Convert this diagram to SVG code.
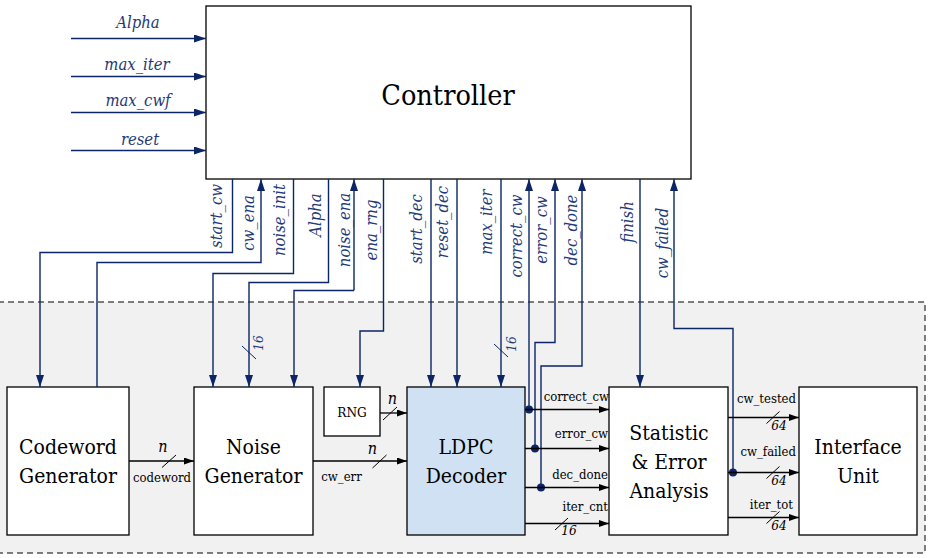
<svg xmlns="http://www.w3.org/2000/svg" width="928" height="558" viewBox="0 0 928 558">
<style>
text{font-family:"DejaVu Serif Condensed","DejaVu Serif",serif}
.box{fill:#fff;stroke:#000;stroke-width:1.3}
.ctl{fill:none;stroke:#0b2566;stroke-width:1.4}
.dat{fill:none;stroke:#000;stroke-width:1.3}
.sl{stroke:#000;stroke-width:1}
.slb{stroke:#0b2566;stroke-width:1}
.big{font-size:21px;fill:#000;text-anchor:middle}
.it{font-style:italic;font-size:16.5px;fill:#1f3a78;text-anchor:middle}
.lb{font-size:13px;fill:#000}
.n{font-style:italic;font-size:16px;fill:#000;text-anchor:middle}
.w{font-style:italic;font-size:13.5px;fill:#000;text-anchor:middle}
.dot{fill:#0b2566}
</style>
<defs>
<marker id="an" markerUnits="userSpaceOnUse" markerWidth="13" markerHeight="9" refX="12" refY="4" orient="auto"><path d="M0,0 L12,4 L0,8 z" fill="#0b2566"/></marker>
<marker id="ab" markerUnits="userSpaceOnUse" markerWidth="11" markerHeight="8" refX="10" refY="3.5" orient="auto"><path d="M0,0 L10,3.5 L0,7 z" fill="#000"/></marker>
</defs>
<rect x="-2" y="302" width="927" height="251" fill="#f1f1f1" stroke="#000" stroke-width="1" stroke-dasharray="6,4"/>

<g id="controller">
<rect class="box" x="206" y="6" width="485" height="173"/>
<text x="448" y="105" style="font-size:28.5px" text-anchor="middle">Controller</text>
</g>
<g id="codeword-generator">
<rect class="box" x="7" y="387" width="122" height="148"/>
<text class="big" x="68" y="454">Codeword</text>
<text class="big" x="68" y="483">Generator</text>
</g>
<g id="noise-generator">
<rect class="box" x="194" y="387" width="119" height="148"/>
<text class="big" x="253.5" y="454">Noise</text>
<text class="big" x="253.5" y="483">Generator</text>
</g>
<g id="rng">
<rect class="box" x="324" y="387" width="56" height="49"/>
<text x="352" y="417" font-size="13.5" text-anchor="middle">RNG</text>
</g>
<g id="ldpc-decoder">
<rect class="box" x="407" y="387" width="118" height="148" style="fill:#cfe1f2"/>
<text class="big" x="466" y="454">LDPC</text>
<text class="big" x="466" y="483">Decoder</text>
</g>
<g id="statistic">
<rect class="box" x="609" y="387" width="119" height="148"/>
<text class="big" x="669" y="440">Statistic</text>
<text class="big" x="669" y="469">&amp; Error</text>
<text class="big" x="669" y="498">Analysis</text>
</g>
<g id="interface-unit">
<rect class="box" x="799" y="387" width="118" height="148"/>
<text class="big" x="858" y="454">Interface</text>
<text class="big" x="858" y="483">Unit</text>
</g>

<g id="connectors">
<line class="ctl" x1="71" y1="38.5" x2="206" y2="38.5" marker-end="url(#an)"/>
<line class="ctl" x1="71" y1="76.5" x2="206" y2="76.5" marker-end="url(#an)"/>
<line class="ctl" x1="71" y1="112.5" x2="206" y2="112.5" marker-end="url(#an)"/>
<line class="ctl" x1="71" y1="150.5" x2="206" y2="150.5" marker-end="url(#an)"/>
<text class="it" x="138" y="28">Alpha</text>
<text class="it" x="137" y="70">max_iter</text>
<text class="it" x="138" y="106">max_cwf</text>
<text class="it" x="140" y="145">reset</text>

<polyline class="ctl" points="232.5,179 232.5,252.5 40,252.5 40,387" marker-end="url(#an)"/>
<polyline class="ctl" points="97,387 97,262.5 261,262.5 261,179" marker-end="url(#an)"/>
<polyline class="ctl" points="293.5,179 293.5,273.5 213,273.5 213,387" marker-end="url(#an)"/>
<polyline class="ctl" points="328.5,179 328.5,282.5 249,282.5 249,387" marker-end="url(#an)"/>
<polyline class="ctl" points="354,290.5 354,179" marker-end="url(#an)"/>
<polyline class="ctl" points="354,290.5 294,290.5 294,387" marker-end="url(#an)"/>
<polyline class="ctl" points="383.5,179 383.5,331 360,331 360,387" marker-end="url(#an)"/>
<line class="ctl" x1="431" y1="179" x2="431" y2="387" marker-end="url(#an)"/>
<line class="ctl" x1="457" y1="179" x2="457" y2="387" marker-end="url(#an)"/>
<line class="ctl" x1="501" y1="179" x2="501" y2="387" marker-end="url(#an)"/>
<line class="ctl" x1="529" y1="409" x2="529" y2="179" marker-end="url(#an)"/>
<polyline class="ctl" points="535,448 535,342.5 555,342.5 555,179" marker-end="url(#an)"/>
<polyline class="ctl" points="541,487 541,366 582,366 582,179" marker-end="url(#an)"/>
<line class="ctl" x1="640" y1="179" x2="640" y2="387" marker-end="url(#an)"/>
<polyline class="ctl" points="733,472 733,328.5 674,328.5 674,179" marker-end="url(#an)"/>

<line class="slb" x1="242" y1="346" x2="256" y2="359"/>
<line class="slb" x1="494" y1="344" x2="508" y2="357"/>

<circle class="dot" cx="529" cy="409.5" r="4"/>
<circle class="dot" cx="535" cy="448.5" r="4"/>
<circle class="dot" cx="541" cy="487.5" r="4"/>
<circle class="dot" cx="733" cy="472.5" r="4"/>

<g class="it">
<text transform="translate(222,216) rotate(-90)">start_cw</text>
<text transform="translate(254,223) rotate(-90)">cw_ena</text>
<text transform="translate(285,220) rotate(-90)">noise_init</text>
<text transform="translate(321,215) rotate(-90)">Alpha</text>
<text transform="translate(350,230) rotate(-90)">noise_ena</text>
<text transform="translate(377,230) rotate(-90)">ena_rng</text>
<text transform="translate(422,229) rotate(-90)">start_dec</text>
<text transform="translate(448,222) rotate(-90)">reset_dec</text>
<text transform="translate(492,222) rotate(-90)">max_iter</text>
<text transform="translate(522,236) rotate(-90)">correct_cw</text>
<text transform="translate(547,230) rotate(-90)">error_cw</text>
<text transform="translate(577,230) rotate(-90)">dec_done</text>
<text transform="translate(633,222) rotate(-90)">finish</text>
<text transform="translate(668,243) rotate(-90)">cw_failed</text>
<text transform="translate(263,343) rotate(-90)" style="font-size:13.5px">16</text>
<text transform="translate(516,344) rotate(-90)" style="font-size:13.5px">16</text>
</g>

<line class="dat" x1="129" y1="461" x2="194" y2="461" marker-end="url(#ab)"/>
<line class="sl" x1="162" y1="467.5" x2="176" y2="455"/>
<text class="n" x="163" y="452">n</text>
<text class="lb" x="162" y="481.5" text-anchor="middle">codeword</text>

<line class="dat" x1="380" y1="413" x2="407" y2="413" marker-end="url(#ab)"/>
<line class="sl" x1="383" y1="420" x2="397" y2="407"/>
<text class="n" x="392.5" y="404">n</text>

<line class="dat" x1="313" y1="461" x2="407" y2="461" marker-end="url(#ab)"/>
<line class="sl" x1="372.5" y1="468" x2="386.5" y2="455"/>
<text class="n" x="372.5" y="454">n</text>
<text class="lb" x="341.5" y="481" text-anchor="middle">cw_err</text>

<line class="dat" x1="525" y1="409.5" x2="609" y2="409.5" marker-end="url(#ab)"/>
<text class="lb" x="609" y="401" text-anchor="end">correct_cw</text>
<line class="dat" x1="525" y1="448.5" x2="609" y2="448.5" marker-end="url(#ab)"/>
<text class="lb" x="608" y="438" text-anchor="end">error_cw</text>
<line class="dat" x1="525" y1="487.5" x2="609" y2="487.5" marker-end="url(#ab)"/>
<text class="lb" x="608" y="479" text-anchor="end">dec_done</text>
<line class="dat" x1="525" y1="523.5" x2="609" y2="523.5" marker-end="url(#ab)"/>
<text class="lb" x="608" y="511" text-anchor="end">iter_cnt</text>
<line class="sl" x1="555" y1="530" x2="568" y2="518"/>
<text class="w" x="569" y="535">16</text>

<line class="dat" x1="728" y1="417.5" x2="799" y2="417.5" marker-end="url(#ab)"/>
<text class="lb" x="796" y="403" text-anchor="end">cw_tested</text>
<line class="sl" x1="766.5" y1="423.5" x2="779.5" y2="411.5"/>
<text class="w" x="779" y="430">64</text>
<line class="dat" x1="728" y1="472.5" x2="799" y2="472.5" marker-end="url(#ab)"/>
<text class="lb" x="796" y="456" text-anchor="end">cw_failed</text>
<line class="sl" x1="766.5" y1="478.5" x2="779.5" y2="466.5"/>
<text class="w" x="779" y="485">64</text>
<line class="dat" x1="728" y1="517.5" x2="799" y2="517.5" marker-end="url(#ab)"/>
<text class="lb" x="793" y="509" text-anchor="end">iter_tot</text>
<line class="sl" x1="766.5" y1="523.5" x2="779.5" y2="511.5"/>
<text class="w" x="779" y="530">64</text>
</g>
</svg>
